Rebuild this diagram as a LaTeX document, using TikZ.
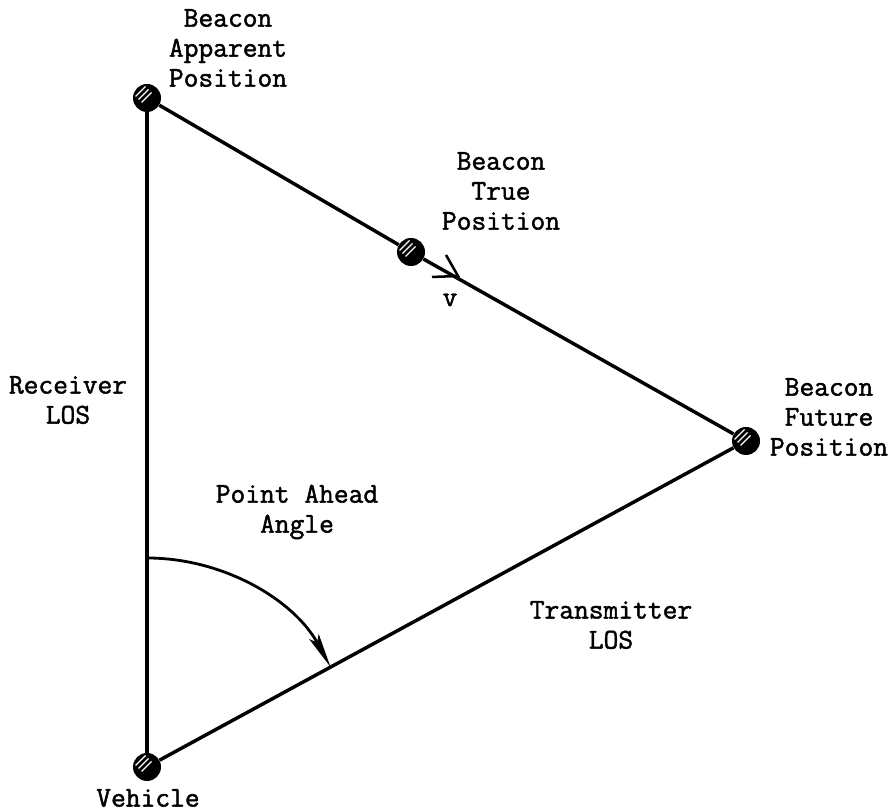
\documentclass[tikz,border=0pt]{standalone}
\usepackage{fontspec}
\newfontfamily\tw[FakeBold=1.6]{Latin Modern Mono}
\usetikzlibrary{arrows.meta}
\begin{document}
\begin{tikzpicture}[x=0.75pt,y=0.75pt,
  lbl/.style={font=\tw\fontsize{21.5}{22.5}\selectfont, align=center, inner sep=0pt},
  beacon/.style={circle, fill=black, minimum size=21pt, inner sep=0pt,
    path picture={
      \foreach \o in {-4.5,-1.5,1.5} {
        \draw[white, line width=1pt]
          ([shift={(-7+\o,-3-\o)}]path picture bounding box.center) --
          ([shift={(3+\o,7-\o)}]path picture bounding box.center);
      }}},
  edge/.style={line width=2.6pt}]
\useasboundingbox (0,0) rectangle (896,812);
\node[beacon] (app) at (147,714) {};
\node[beacon] (tru) at (411,560) {};
\node[beacon] (fut) at (746,371) {};
\node[beacon] (veh) at (147,45) {};
\draw[edge] (app) -- (tru);
\draw[edge] (tru) -- (fut);
\draw[edge] (app) -- (veh);
\draw[edge] (veh) -- (fut);
% velocity arrowhead on the line
\coordinate (vtip) at (458,536);
\draw[line width=1.9pt] ([shift={(-12,21)}]vtip) -- (vtip) -- ([shift={(-26,-1)}]vtip);
% point ahead angle arc
\coordinate (arcstart) at (147,254);
\draw[line width=2.1pt, -{Stealth[length=26pt, width=8pt, inset=5pt]}]
  (arcstart) arc[start angle=90, end angle=28.55, radius=209];
% labels
\node[lbl] (lapp) at (228,764) {Beacon\\Apparent\\Position};
\node[lbl] (ltru) at (501,621) {Beacon\\True\\Position};
\node[lbl] (lfut) at (829,395) {Beacon\\Future\\Position};
\node[lbl] (lrec) at (68,412) {Receiver\\LOS};
\node[lbl] (lpa) at (297,300) {Point Ahead\\Angle};
\node[lbl] (ltx) at (611,187) {Transmitter\\LOS};
\node[lbl] (lveh) at (148,14) {Vehicle};
\node[lbl] (lv) at (450,512) {v};
\end{tikzpicture}
\end{document}
